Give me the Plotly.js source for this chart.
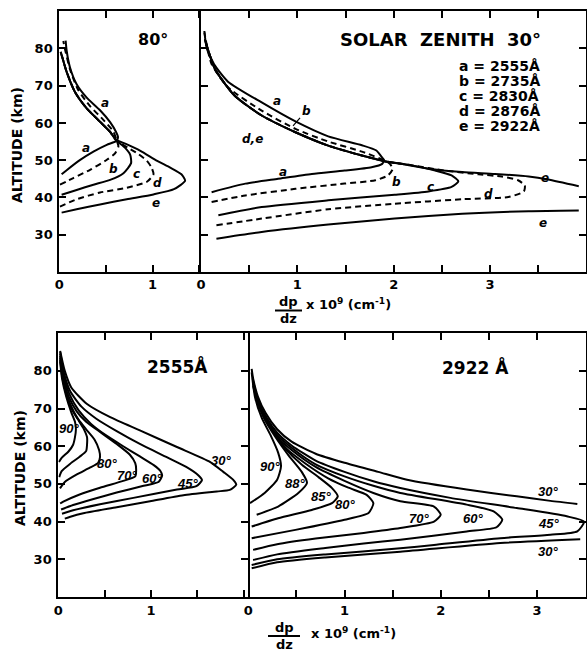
<!DOCTYPE html>
<html><head><meta charset="utf-8">
<script src="https://cdn.plot.ly/plotly-3.0.1.min.js"></script>
<style>html,body{margin:0;padding:0;background:#fff}#chart{width:587px;height:652px}</style>
</head><body><div id="chart"></div>
<script>
// ---------- axis ticks ----------
const altTicks = [30, 40, 50, 60, 70, 80];
const altRange = [20, 90];
const dpTicksTL = [0, 1];
const dpTicksTR = [0, 1, 2, 3];
const dpTicksBL = [0, 1];
const dpTicksBR = [0, 1, 2, 3];
const dpMinorStep = 0.5;

// ---------- top-left: solar zenith 80 deg, wavelengths a..e ----------
const z80_a_dp  = [0.025,0.079,0.22,0.366,0.509,0.616,0.63,0.61,0.545,0.437,0.294,0.186,0.115,0.079,0.068];
const z80_a_alt = [46.2,47.3,50.0,52.3,54.1,55.2,56.2,57.5,60.2,63.4,66.8,70.4,74.9,79.4,82.1];
const z80_b_dp  = [0.007,0.15,0.33,0.51,0.6,0.634,0.62,0.58,0.47,0.33,0.2,0.115,0.061,0.043];
const z80_b_alt = [43.4,45.2,47.4,50.1,51.9,53.7,55.0,57.7,60.9,64.5,69.0,74.4,79.8,82.0];
const z80_c_dp  = [0.025,0.186,0.366,0.545,0.688,0.77,0.76,0.706,0.634,0.6,0.545,0.437,0.294,0.168,0.079,0.036,0.014];
const z80_c_alt = [40.7,42.0,43.4,44.7,46.5,49.2,51.5,53.3,54.8,55.6,57.6,60.3,63.9,68.3,73.7,77.3,79.1];
const z80_d_dp  = [0.007,0.186,0.437,0.724,0.94,1.01,0.99,0.94,0.85,0.74,0.652,0.6,0.545,0.437,0.294,0.168,0.079,0.036,0.014];
const z80_d_alt = [37.5,39.5,41.3,42.6,44.2,46.2,48.0,49.8,51.6,53.3,54.6,55.6,57.6,60.3,63.9,68.3,73.7,77.3,79.1];
const z80_e_dp  = [0.025,0.186,0.437,0.724,1.01,1.23,1.35,1.31,1.19,1.05,0.87,0.72,0.616,0.545,0.437,0.294,0.168,0.079,0.036,0.014];
const z80_e_alt = [35.9,36.8,38.1,39.5,40.8,42.2,44.5,46.2,48.0,49.8,52.5,54.3,55.4,57.6,60.3,63.9,68.3,73.7,77.3,79.1];

// ---------- top-right: solar zenith 30 deg ----------
const z30_a_dp  = [0.11,0.46,0.8,1.15,1.49,1.77,1.88,1.9,1.87,1.82,1.67,1.32,0.98,0.63,0.28,0.145,0.06,0.035];
const z30_a_alt = [41.4,43.7,45.0,46.3,47.2,48.1,49.0,50.0,51.0,52.6,54.0,56.4,60.4,65.5,71.1,75.4,80.0,84.7];
const z30_b_dp  = [0.11,0.46,0.98,1.49,1.81,1.94,1.99,1.96,1.93,1.67,1.32,0.98,0.63,0.28,0.11,0.035];
const z30_b_alt = [38.75,40.5,42.3,43.7,44.6,45.9,47.7,49.0,49.6,52.3,55.0,58.4,63.3,69.6,75.8,84.3];
const z30_c_dp  = [0.18,0.63,1.32,2.01,2.36,2.6,2.67,2.6,2.43,2.19,2.01,1.91,1.67,1.32,0.98,0.63,0.35,0.145,0.04];
const z30_c_alt = [35.2,37.4,39.2,40.7,41.6,42.8,44.3,45.9,47.2,48.6,49.3,49.6,51.25,53.9,57.5,62.0,67.3,74.5,82.5];
const z30_d_dp  = [0.16,0.63,1.32,2.01,2.71,3.19,3.35,3.36,3.29,3.12,2.88,2.53,2.19,1.94,1.67,1.32,0.98,0.63,0.35,0.145,0.04];
const z30_d_alt = [32.5,34.3,36.8,38.3,39.5,40.1,41.6,43.2,44.6,45.6,46.2,47.2,48.6,49.6,51.25,53.9,57.5,62.0,67.3,74.5,82.5];
const z30_e_dp  = [0.16,0.63,1.32,2.01,2.71,3.4,3.92,null,3.92,3.6,3.4,3.05,2.71,2.36,2.08,1.94,1.67,1.32,0.98,0.63,0.35,0.145,0.04];
const z30_e_alt = [28.9,30.7,32.7,34.3,35.6,36.3,36.5,null,43.0,44.8,45.6,46.3,46.8,47.7,49.0,49.6,51.25,53.9,57.5,62.0,67.3,74.5,82.5];

// ---------- bottom-left: 2555 A, solar zenith angles ----------
const w2555_90_dp  = [0.007,0.036,0.11,0.16,0.18,0.19,0.18,0.14,0.085,0.04,0.02];
const w2555_90_alt = [55.8,56.9,58.6,60.4,62.4,64.5,66.5,69.0,73.2,78.0,82.5];
const w2555_85_dp  = [0.01,0.036,0.126,0.23,0.3,0.31,0.31,0.27,0.21,0.15,0.09,0.045,0.02];
const w2555_85_alt = [51.8,53.4,55.3,57.2,58.7,60.4,62.4,64.8,67.2,69.6,73.5,78.0,83.0];
const w2555_80_dp  = [0.018,0.07,0.2,0.34,0.43,0.45,0.44,0.39,0.3,0.22,0.17,0.1,0.05,0.02];
const w2555_80_alt = [48.8,50.5,52.5,54.3,55.6,57.1,59.0,61.8,64.5,67.0,69.0,73.0,77.8,83.5];
const w2555_70_dp  = [0.02,0.054,0.23,0.45,0.7,0.83,0.84,0.83,0.77,0.63,0.45,0.3,0.2,0.11,0.055,0.02];
const w2555_70_alt = [44.8,45.3,47.2,49.0,50.8,52.0,53.8,55.5,57.8,60.6,63.8,66.5,69.2,73.3,78.0,84.0];
const w2555_60_dp  = [0.03,0.16,0.38,0.63,0.92,1.08,1.12,1.1,1.03,0.88,0.7,0.52,0.35,0.22,0.12,0.06,0.02];
const w2555_60_alt = [43.2,44.4,46.0,47.7,49.5,50.5,52.2,53.5,55.0,57.3,60.0,62.8,66.0,69.5,73.8,78.5,84.5];
const w2555_45_dp  = [0.04,0.16,0.45,0.81,1.28,1.49,1.55,1.51,1.38,1.17,0.88,0.63,0.41,0.25,0.13,0.065,0.02];
const w2555_45_alt = [42.1,43.0,44.6,46.3,48.5,49.4,51.0,52.3,54.5,57.1,60.6,64.0,67.3,70.5,74.5,79.0,85.0];
const w2555_30_dp  = [0.07,0.13,0.27,0.63,0.99,1.35,1.71,1.85,1.92,1.89,1.78,1.64,1.28,0.88,0.56,0.31,0.14,0.07,0.02];
const w2555_30_alt = [40.8,41.3,42.2,43.8,45.4,47.0,48.0,48.4,49.8,51.0,53.2,55.8,59.8,64.2,67.7,71.2,75.6,80.0,85.3];

// ---------- bottom-right: 2922 A, solar zenith angles ----------
const w2922_90_dp  = [0.018,0.17,0.3,0.34,0.31,0.23,0.14,0.07,0.035];
const w2922_90_alt = [44.9,47.6,51.1,54.7,58.3,63.0,67.5,73.0,79.6];
const w2922_88_dp  = [0.087,0.31,0.52,0.61,0.56,0.42,0.28,0.156,0.07];
const w2922_88_alt = [41.8,44.0,47.6,50.3,53.0,57.5,62.5,67.8,74.5];
const w2922_85_dp  = [0.035,0.31,0.66,0.87,0.93,0.87,0.73,0.56,0.38,0.24,0.13,0.07];
const w2922_85_alt = [38.7,40.9,43.1,44.9,46.7,48.9,51.8,55.0,59.5,64.5,69.5,74.0];
const w2922_80_dp  = [0.035,0.49,1.0,1.25,1.3,1.23,1.04,0.83,0.6,0.4,0.25,0.14,0.08,0.045];
const w2922_80_alt = [35.6,37.8,40.5,42.3,44.9,47.1,49.0,51.5,55.3,59.3,64.3,69.5,74.0,78.0];
const w2922_70_dp  = [0.05,0.3,0.7,1.2,1.58,1.93,2.0,1.93,1.58,1.3,1.0,0.7,0.45,0.3,0.18,0.1,0.05];
const w2922_70_alt = [32.5,34.0,35.5,37.0,38.3,40.0,41.8,44.0,45.4,47.6,50.8,54.5,59.0,62.5,67.0,71.5,76.0];
const w2922_60_dp  = [0.05,0.3,0.8,1.2,1.58,2.27,2.58,2.64,2.55,2.27,1.58,1.3,1.0,0.7,0.45,0.3,0.18,0.1,0.05];
const w2922_60_alt = [29.8,31.3,33.0,34.2,35.2,37.4,38.5,40.5,42.7,44.5,47.6,49.5,52.0,55.2,59.6,63.0,67.5,72.0,76.5];
const w2922_45_dp  = [0.035,0.3,0.8,1.58,1.93,2.62,3.14,3.42,3.49,3.31,2.79,2.1,1.58,1.3,1.0,0.7,0.45,0.3,0.18,0.1,0.05];
const w2922_45_alt = [28.5,30.0,31.3,32.9,33.8,35.6,36.5,37.4,40.0,41.4,43.6,46.3,48.9,50.7,53.2,56.2,60.2,63.6,68.0,72.5,77.0];
const w2922_30_dp  = [0.035,0.3,0.8,1.58,2.62,3.45,null,3.42,3.14,2.79,2.27,1.65,1.35,1.0,0.7,0.45,0.3,0.18,0.1,0.05,0.035];
const w2922_30_alt = [27.6,29.2,30.5,32.0,34.3,35.3,null,44.7,45.5,46.7,48.5,51.1,53.2,55.6,58.0,61.2,64.5,68.8,73.2,78.0,80.5];

// ---------- build traces ----------
function curve(x, y, ax, dashed) {
  return {x: x, y: y, xaxis: 'x' + ax, yaxis: 'y' + ax, type: 'scatter', mode: 'lines',
    line: {color: '#000', width: 2, shape: 'spline', smoothing: 0.6, dash: dashed ? '6px,4px' : 'solid'},
    hoverinfo: 'skip', showlegend: false, connectgaps: false};
}
const traces = [
  curve(z80_a_dp, z80_a_alt, '', false),
  curve(z80_b_dp, z80_b_alt, '', true),
  curve(z80_c_dp, z80_c_alt, '', false),
  curve(z80_d_dp, z80_d_alt, '', true),
  curve(z80_e_dp, z80_e_alt, '', false),
  curve(z30_a_dp, z30_a_alt, '2', false),
  curve(z30_b_dp, z30_b_alt, '2', true),
  curve(z30_c_dp, z30_c_alt, '2', false),
  curve(z30_d_dp, z30_d_alt, '2', true),
  curve(z30_e_dp, z30_e_alt, '2', false),
  curve(w2555_90_dp, w2555_90_alt, '3', false),
  curve(w2555_85_dp, w2555_85_alt, '3', false),
  curve(w2555_80_dp, w2555_80_alt, '3', false),
  curve(w2555_70_dp, w2555_70_alt, '3', false),
  curve(w2555_60_dp, w2555_60_alt, '3', false),
  curve(w2555_45_dp, w2555_45_alt, '3', false),
  curve(w2555_30_dp, w2555_30_alt, '3', false),
  curve(w2922_90_dp, w2922_90_alt, '4', false),
  curve(w2922_88_dp, w2922_88_alt, '4', false),
  curve(w2922_85_dp, w2922_85_alt, '4', false),
  curve(w2922_80_dp, w2922_80_alt, '4', false),
  curve(w2922_70_dp, w2922_70_alt, '4', false),
  curve(w2922_60_dp, w2922_60_alt, '4', false),
  curve(w2922_45_dp, w2922_45_alt, '4', false),
  curve(w2922_30_dp, w2922_30_alt, '4', false)
];

// ---------- axes ----------
const FONT = 'DejaVu Sans, Liberation Sans, Arial, sans-serif';
const tickFont = {family: FONT, size: 13, weight: 'bold', color: '#000'};
function xAx(domain, range, vals, anchor) {
  return {domain: domain, range: range, anchor: anchor, tickmode: 'array', tickvals: vals,
    ticks: 'inside', ticklen: 7, tickwidth: 2, tickcolor: '#000', mirror: 'ticks',
    minor: {tickmode: 'linear', tick0: 0, dtick: dpMinorStep, ticks: 'inside', ticklen: 7, tickwidth: 2, tickcolor: '#000', showgrid: false},
    showline: true, linewidth: 2, linecolor: '#000', showgrid: false, zeroline: false,
    tickfont: tickFont, fixedrange: true};
}
function yAx(domain, anchor, labels, mirror, side) {
  return {domain: domain, range: altRange, anchor: anchor, tickmode: 'array', tickvals: altTicks,
    ticks: 'inside', ticklen: 7, tickwidth: 2, tickcolor: '#000', mirror: mirror, side: side || 'left',
    showticklabels: labels, showline: true, linewidth: 2, linecolor: '#000', showgrid: false, zeroline: false,
    tickfont: tickFont, ticklabelstandoff: 2, fixedrange: true};
}
const topDom = [0.5831, 0.9827], botDom = [0.0844, 0.4890];

// ---------- annotations ----------
const letterFont = {family: FONT, size: 12, weight: 'bold', style: 'italic', color: '#000'};
const angleFont = {family: 'Liberation Sans Narrow, Liberation Sans, Arial, sans-serif', size: 13, weight: 'bold', style: 'italic', color: '#000'};
const titleFont = (s) => ({family: FONT, size: s, weight: 'bold', color: '#000'});
function lab(text, x, y, ax, font, extra) {
  return Object.assign({text: text, x: x, y: y, xref: 'x' + ax, yref: 'y' + ax, showarrow: false, font: font}, extra || {});
}
function paperText(text, px, py, font, extra) {
  return Object.assign({text: text, x: px / 587, y: 1 - py / 652, xref: 'paper', yref: 'paper',
    xanchor: 'center', yanchor: 'middle', showarrow: false, font: font}, extra || {});
}
const ann = [
  lab('80°', 1.0, 82.3, '', titleFont(16)),
  lab('a', 0.49, 65.4, '', letterFont), lab('a', 0.29, 53.3, '', letterFont),
  lab('b', 0.58, 47.6, '', letterFont), lab('c', 0.83, 46.3, '', letterFont),
  lab('d', 1.05, 43.8, '', letterFont), lab('e', 1.04, 38.4, '', letterFont),

  lab('SOLAR\u00a0\u00a0ZENITH\u00a0\u00a030°', 2.48, 82.5, '2', titleFont(18)),
  lab('a = 2555Å', 2.655, 75.3, '2', titleFont(14), {xanchor: 'left'}),
  lab('b = 2735Å', 2.655, 71.3, '2', titleFont(14), {xanchor: 'left'}),
  lab('c = 2830Å', 2.655, 67.3, '2', titleFont(14), {xanchor: 'left'}),
  lab('d = 2876Å', 2.655, 63.2, '2', titleFont(14), {xanchor: 'left'}),
  lab('e = 2922Å', 2.655, 59.2, '2', titleFont(14), {xanchor: 'left'}),
  lab('a', 0.79, 65.9, '2', letterFont),
  lab('b', 0.955, 59.2, '2', letterFont, {showarrow: true, arrowhead: 0, arrowwidth: 1.2, arrowcolor: '#000', ax: 13, ay: -15, standoff: 0}),
  lab('d,e', 0.53, 55.8, '2', letterFont),
  lab('a', 0.85, 46.9, '2', letterFont), lab('b', 2.03, 44.2, '2', letterFont),
  lab('c', 2.38, 42.9, '2', letterFont), lab('d', 2.98, 41.0, '2', letterFont),
  lab('e', 3.57, 45.3, '2', letterFont), lab('e', 3.55, 33.0, '2', letterFont),

  lab('2555Å', 1.29, 81.3, '3', titleFont(17)),
  lab('90°', 0.11, 64.6, '3', angleFont), lab('80°', 0.52, 55.4, '3', angleFont),
  lab('70°', 0.74, 52.3, '3', angleFont), lab('60°', 1.01, 51.4, '3', angleFont),
  lab('45°', 1.39, 50.0, '3', angleFont), lab('30°', 1.76, 56.2, '3', angleFont),

  lab('2922 Å', 2.36, 81.0, '4', titleFont(17)),
  lab('90°', 0.23, 54.7, '4', angleFont), lab('88°', 0.49, 50.1, '4', angleFont),
  lab('85°', 0.76, 46.7, '4', angleFont), lab('80°', 1.01, 44.5, '4', angleFont),
  lab('70°', 1.77, 40.9, '4', angleFont), lab('60°', 2.34, 40.7, '4', angleFont),
  lab('45°', 3.12, 39.6, '4', angleFont), lab('30°', 3.12, 48.0, '4', angleFont),
  lab('30°', 3.12, 32.0, '4', angleFont),

  // axis titles
  paperText('ALTITUDE (km)', 17, 145, titleFont(14), {textangle: -90}),
  paperText('ALTITUDE (km)', 20, 468, titleFont(14), {textangle: -90}),
  paperText('dp', 288.5, 301, titleFont(13)),
  paperText('dz', 288.5, 318, titleFont(13)),
  paperText('x 10<sup>9</sup> (cm<sup>-1</sup>)', 304, 304, titleFont(13), {xanchor: 'left'}),
  paperText('dp', 284, 627, titleFont(13)),
  paperText('dz', 284, 644, titleFont(13)),
  paperText('x 10<sup>9</sup> (cm<sup>-1</sup>)', 309, 633, titleFont(13), {xanchor: 'left'})
];
const shapes = [
  {type: 'line', xref: 'paper', yref: 'paper', x0: 275/587, x1: 302/587, y0: 1 - 310.5/652, y1: 1 - 310.5/652, line: {color: '#000', width: 2}},
  {type: 'line', xref: 'paper', yref: 'paper', x0: 268/587, x1: 300/587, y0: 1 - 636/652, y1: 1 - 636/652, line: {color: '#000', width: 2}}
];

const layout = {
  width: 587, height: 652, margin: {l: 0, r: 0, t: 0, b: 0, pad: 0},
  paper_bgcolor: '#fff', plot_bgcolor: '#fff', showlegend: false,
  xaxis:  xAx([59.3/587, 201/587], [0, 1.52], dpTicksTL, 'y'),
  yaxis:  yAx(topDom, 'x', true, false),
  xaxis2: xAx([201/587, 586/587], [0, 3.995], dpTicksTR, 'y2'),
  yaxis2: yAx(topDom, 'x2', false, 'ticks'),
  xaxis3: xAx([58.3/587, 248.3/587], [0, 2.05], dpTicksBL, 'y3'),
  yaxis3: yAx(botDom, 'x3', true, 'ticks'),
  xaxis4: xAx([248.3/587, 586/587], [0, 3.51], dpTicksBR, 'y4'),
  yaxis4: yAx(botDom, 'x4', false, false, 'right'),
  annotations: ann, shapes: shapes
};
Plotly.newPlot('chart', traces, layout, {staticPlot: true, displayModeBar: false});
</script></body></html>
